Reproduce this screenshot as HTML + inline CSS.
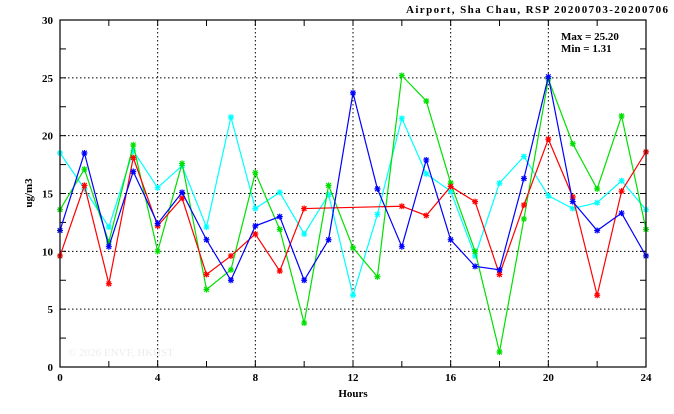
<!DOCTYPE html>
<html><head><meta charset="utf-8"><style>
body{margin:0;background:#fff;width:674px;height:409px;overflow:hidden}
text{font-family:"Liberation Serif",serif;font-weight:bold;font-size:11px;fill:#000}
</style></head><body>
<svg id="chart" width="674" height="409" xmlns="http://www.w3.org/2000/svg">
<text x="668" y="13" text-anchor="end" textLength="262">Airport, Sha Chau, RSP 20200703-20200706</text>
<text x="32" y="193" transform="rotate(-90 32 193)" text-anchor="middle">ug/m3</text>
<text x="353" y="397" text-anchor="middle">Hours</text>
<text x="68" y="356" style="fill:#ececec;font-weight:normal">© 2026 ENVF, HKUST</text>
<text x="561" y="40">Max = 25.20</text>
<text x="561" y="52">Min =  1.31</text>
<g id="grid"></g><g id="series"></g>
<rect x="60" y="20" width="586" height="347" fill="none" stroke="#000" stroke-width="1.2"/>
</svg>
<script>
const hours=[0,1,2,3,4,5,6,7,8,9,10,11,12,13,14,15,16,17,18,19,20,21,22,23,24];
const xTicks=[0,4,8,12,16,20,24];
const yTicks=[0,5,10,15,20,25,30];
const red=[9.6,15.7,7.2,18.1,12.2,14.6,8.0,9.6,11.5,8.3,13.7,null,null,null,13.9,13.1,15.6,14.3,8.0,14.0,19.7,14.7,6.2,15.2,18.6];
const blue=[11.8,18.5,10.4,16.9,12.4,15.1,11.0,7.5,12.2,13.0,7.5,11.0,23.7,15.4,10.4,17.9,11.0,8.7,8.4,16.3,25.1,14.3,11.8,13.3,9.6];
const green=[13.6,17.1,10.8,19.2,10.0,17.6,6.7,8.4,16.8,11.9,3.8,15.7,10.3,7.8,25.2,23.0,15.9,10.0,1.3,12.8,24.9,19.3,15.4,21.7,11.9];
const cyan=[18.5,15.4,12.1,18.7,15.5,17.4,12.1,21.6,13.7,15.1,11.5,14.9,6.2,13.2,21.5,16.7,15.2,9.6,15.9,18.2,14.8,13.7,14.2,16.1,13.6];
const NS="http://www.w3.org/2000/svg";
const X=h=>60+h*586/24, Y=v=>367-v*347/30;
function mk(t,a,p){const e=document.createElementNS(NS,t);for(const k in a)e.setAttribute(k,a[k]);p.appendChild(e);return e;}
const g=document.getElementById('grid');
yTicks.forEach(v=>{
 const y=Y(v);
 if(v>0&&v<30){const l=mk('line',{x1:60,x2:646,y1:y,y2:y,stroke:'#000','stroke-dasharray':'1.5,2.5','stroke-width':1},g);
 
 }
 const t=mk('text',{x:53,y:y+4,'text-anchor':'end'},g);t.textContent=v;
 
 
});
for(let v=0;v<=30;v+=2.5){const y=Y(v);mk('line',{x1:60,x2:66,y1:y,y2:y,stroke:'#000'},g);mk('line',{x1:640,x2:646,y1:y,y2:y,stroke:'#000'},g);}
for(let h=0;h<=24;h+=2){const x=X(h);mk('line',{x1:x,x2:x,y1:367,y2:361,stroke:'#000'},g);mk('line',{x1:x,x2:x,y1:20,y2:26,stroke:'#000'},g);}
xTicks.forEach(h=>{
 const x=X(h);
 if(h>0&&h<24){const l=mk('line',{x1:x,x2:x,y1:20,y2:367,stroke:'#000','stroke-dasharray':'1.5,2.5','stroke-width':1},g);
 
 }
 const t=mk('text',{x:x,y:381,'text-anchor':'middle'},g);t.textContent=h;
 
 
});
const s=document.getElementById('series');
[[cyan,'#00ffff','cyan'],[green,'#00e000','green'],[red,'#ff0000','red'],[blue,'#0000ff','blue']].forEach(([d,c,n])=>{
 const pts=[];d.forEach((v,i)=>{if(v!==null)pts.push(X(hours[i])+','+Y(v));});
 const pl=mk('polyline',{points:pts.join(' '),fill:'none',stroke:c,'stroke-width':1.2},s);
 
 
 d.forEach((v,i)=>{if(v===null)return;const x=X(hours[i]),y=Y(v);
  const m=mk('path',{d:`M${x-3},${y}H${x+3}M${x},${y-3}V${y+3}M${x-2.3},${y-2.3}L${x+2.3},${y+2.3}M${x-2.3},${y+2.3}L${x+2.3},${y-2.3}`,stroke:c,'stroke-width':1.2},s);
  
  
 });
});
</script>
</body></html>
